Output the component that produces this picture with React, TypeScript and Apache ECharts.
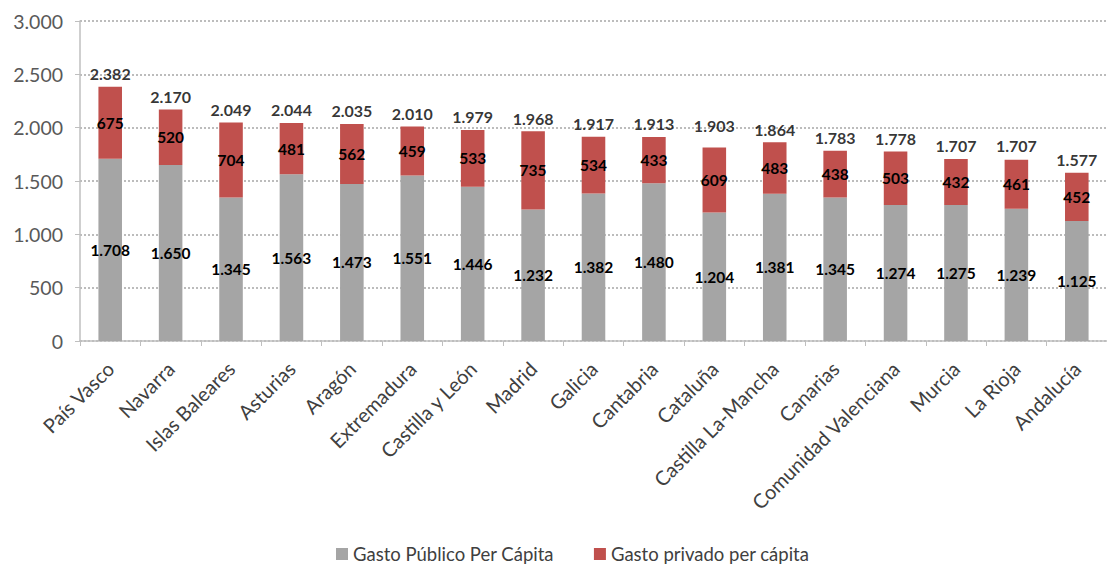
import React, { useEffect, useRef } from "react";
import * as echarts from "echarts";

const categories = [
  "País Vasco", "Navarra", "Islas Baleares", "Asturias", "Aragón", "Extremadura",
  "Castilla y León", "Madrid", "Galicia", "Cantabria", "Cataluña", "Castilla La-Mancha",
  "Canarias", "Comunidad Valenciana", "Murcia", "La Rioja", "Andalucía",
];
const gastoPublico = [1708, 1650, 1345, 1563, 1473, 1551, 1446, 1232, 1382, 1480, 1204, 1381, 1345, 1274, 1275, 1239, 1125];
const gastoPrivado = [675, 520, 704, 481, 562, 459, 533, 735, 534, 433, 609, 483, 438, 503, 432, 461, 452];
const totales = [2382, 2170, 2049, 2044, 2035, 2010, 1979, 1968, 1917, 1913, 1903, 1864, 1783, 1778, 1707, 1707, 1577];
const yTicks = { min: 0, max: 3000, interval: 500 };

const fmt = (v: number) => {
  const s = String(Math.round(v));
  return s.replace(/\B(?=(\d{3})+(?!\d))/g, ".");
};

const FONT = "Lato, 'Open Sans', sans-serif";

export default function App() {
  const ref = useRef<HTMLDivElement>(null);
  useEffect(() => {
    if (!ref.current) return;
    const chart = echarts.init(ref.current, null, { renderer: "svg" });
    const dataLabel = {
      show: true,
      position: "inside" as const,
      color: "#000",
      fontWeight: "bold" as const,
      fontSize: 15.5,
      fontFamily: FONT,
      formatter: (p: any) => fmt(p.value),
    };
    chart.setOption({
      animation: false,
      backgroundColor: "#fff",
      textStyle: { fontFamily: FONT },
      grid: { left: 80, right: 0, top: 21, bottom: 228, containLabel: false },
      legend: {
        top: 543,
        left: 336,
        itemWidth: 12,
        itemHeight: 12,
        itemGap: 40,
        padding: 0,
        icon: "rect",
        textStyle: { fontSize: 18.5, color: "#404040", fontFamily: FONT, lineHeight: 22 },
        data: ["Gasto Público Per Cápita", "Gasto privado per cápita"],
      },
      xAxis: {
        type: "category",
        data: categories,
        axisLine: { lineStyle: { color: "#bfbfbf", width: 1.5 } },
        axisTick: { show: true, length: 5, lineStyle: { color: "#bfbfbf" } },
        axisLabel: {
          interval: 0,
          rotate: 45,
          fontSize: 20,
          color: "#404040",
          fontFamily: FONT,
          margin: 24,
        },
      },
      yAxis: {
        type: "value",
        min: yTicks.min,
        max: yTicks.max,
        interval: yTicks.interval,
        axisLine: { show: true, lineStyle: { color: "#bfbfbf", width: 1.5 } },
        axisTick: { show: true, inside: false, length: 5, lineStyle: { color: "#bfbfbf" } },
        axisLabel: {
          fontSize: 19.5,
          color: "#595959",
          fontFamily: FONT,
          margin: 17,
          formatter: (v: number) => fmt(v),
        },
        splitLine: { lineStyle: { color: "#a6a6a6", type: [2, 2], width: 1.5 } },
      },
      series: [
        {
          name: "Gasto Público Per Cápita",
          type: "bar",
          stack: "total",
          barWidth: "39%",
          data: gastoPublico,
          itemStyle: { color: "#a5a5a5" },
          label: dataLabel,
        },
        {
          name: "Gasto privado per cápita",
          type: "bar",
          stack: "total",
          barWidth: "39%",
          data: gastoPrivado,
          itemStyle: { color: "#c0504d" },
          label: dataLabel,
        },
        {
          name: "Total",
          type: "scatter",
          data: totales,
          symbolSize: 0,
          silent: true,
          label: {
            show: true,
            position: "top",
            distance: 5,
            color: "#000",
            fontWeight: "bold",
            fontSize: 16,
            fontFamily: FONT,
            formatter: (p: any) => fmt(p.value),
          },
        },
      ],
    });
    return () => chart.dispose();
  }, []);
  return (
    <div
      ref={ref}
      style={{ position: "absolute", left: 0, top: 0, width: 1107, height: 569 }}
    />
  );
}
